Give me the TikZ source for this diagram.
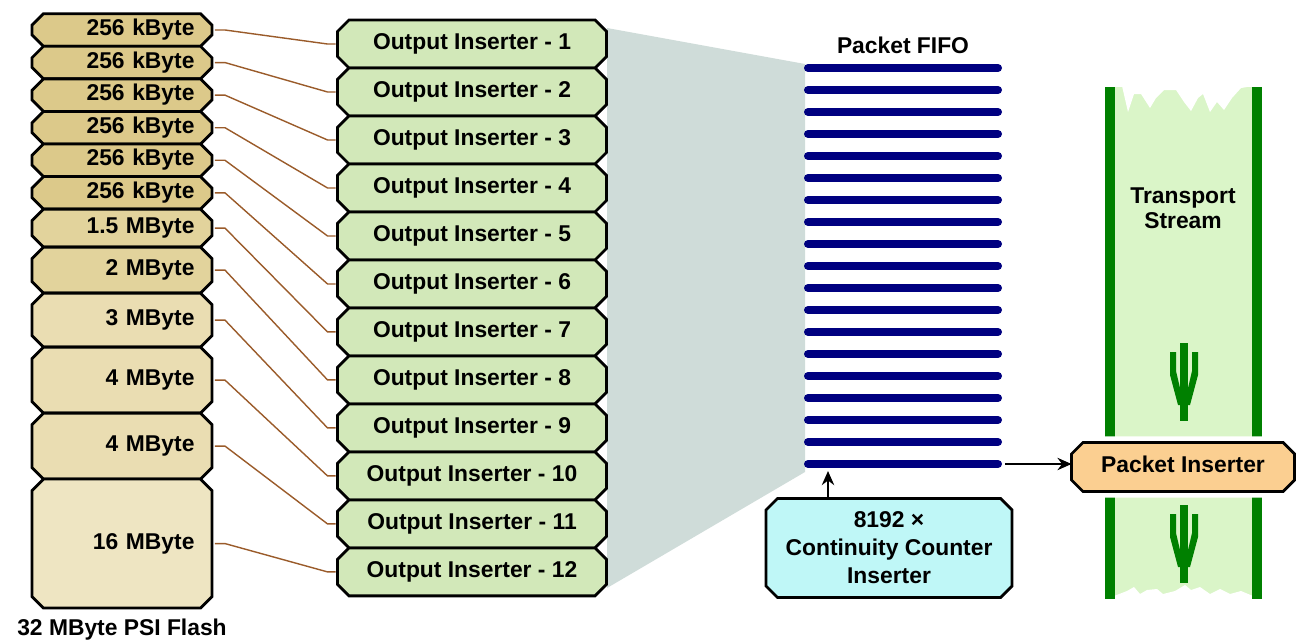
\documentclass[tikz,border=0pt]{standalone}
\usepackage{fontspec}
\setmainfont{Liberation Sans}
\usetikzlibrary{shapes.misc, positioning, arrows.meta}

\definecolor{flashA}{HTML}{DCC98A}
\definecolor{flashB}{HTML}{E2D39C}
\definecolor{flashC}{HTML}{EADDB2}
\definecolor{flashD}{HTML}{EEE5C2}
\definecolor{inserter}{HTML}{D2E8B9}
\definecolor{funnel}{HTML}{CFDCD9}
\definecolor{fifo}{HTML}{000080}
\definecolor{ccfill}{HTML}{BFF7F7}
\definecolor{pifill}{HTML}{FBCF91}
\definecolor{tsfill}{HTML}{DAF5C8}
\definecolor{tsgreen}{HTML}{008000}
\definecolor{wire}{HTML}{9A5B2A}

\begin{document}
\begin{tikzpicture} [ x=0.02cm, y=-0.02cm
                    , font=\fontsize{13}{15}\selectfont\bfseries
                    , box/.style={chamfered rectangle, chamfered rectangle xsep=3pt, draw, line width=1.6pt, outer sep=0pt, inner sep=0pt, text height=9pt, text depth=2.5pt}
                    , fbox/.style={box, minimum width=3.6cm, text width=2.9cm, align=right}
                    , obox/.style={box, fill=inserter, minimum width=5.38cm, minimum height=0.96cm}
                    , wire/.style={draw=wire, line width=0.8pt}
                    , plug/.style={line width=1.3pt, -{Stealth[length=8pt, width=7pt]}}
                    ]

  \useasboundingbox (0,0) rectangle (1300,639);

  % --- Funnel to FIFO --------------------------------------------------------
  \fill [funnel] (607,28) -- (805,64) -- (805,472) -- (607,588) -- cycle;
  % ---------------------------------------------------------------------------

  % --- PSI Flash Stack -------------------------------------------------------
  \node [ fbox, fill=flashA, minimum height=0.64cm ] (F1) at (122,30) {256 kByte};
  \node [ fbox, fill=flashA, minimum height=0.64cm, below=0pt of F1 ] (F2) {256 kByte};
  \node [ fbox, fill=flashA, minimum height=0.64cm, below=0pt of F2 ] (F3) {256 kByte};
  \node [ fbox, fill=flashA, minimum height=0.64cm, below=0pt of F3 ] (F4) {256 kByte};
  \node [ fbox, fill=flashA, minimum height=0.64cm, below=0pt of F4 ] (F5) {256 kByte};
  \node [ fbox, fill=flashA, minimum height=0.64cm, below=0pt of F5 ] (F6) {256 kByte};
  \node [ fbox, fill=flashB, minimum height=0.76cm, below=0pt of F6 ] (F7) {1.5 MByte};
  \node [ fbox, fill=flashB, minimum height=0.92cm, below=0pt of F7 ] (F8) {2 MByte};
  \node [ fbox, fill=flashC, minimum height=1.08cm, below=0pt of F8 ] (F9) {3 MByte};
  \node [ fbox, fill=flashC, minimum height=1.32cm, below=0pt of F9 ] (F10) {4 MByte};
  \node [ fbox, fill=flashC, minimum height=1.32cm, below=0pt of F10 ] (F11) {4 MByte};
  \node [ fbox, fill=flashD, minimum height=2.58cm, below=0pt of F11 ] (F12) {16 MByte};

  \node [ below=0.1cm of F12 ]
        (Flash) {32 MByte PSI Flash};
  % ---------------------------------------------------------------------------

  % --- Output Inserter Stack -------------------------------------------------
  \node [ obox ] (OI1) at (472,44) {Output Inserter - 1};
  \node [ obox, below=0pt of OI1 ] (OI2) {Output Inserter - 2};
  \node [ obox, below=0pt of OI2 ] (OI3) {Output Inserter - 3};
  \node [ obox, below=0pt of OI3 ] (OI4) {Output Inserter - 4};
  \node [ obox, below=0pt of OI4 ] (OI5) {Output Inserter - 5};
  \node [ obox, below=0pt of OI5 ] (OI6) {Output Inserter - 6};
  \node [ obox, below=0pt of OI6 ] (OI7) {Output Inserter - 7};
  \node [ obox, below=0pt of OI7 ] (OI8) {Output Inserter - 8};
  \node [ obox, below=0pt of OI8 ] (OI9) {Output Inserter - 9};
  \node [ obox, below=0pt of OI9 ] (OI10) {Output Inserter - 10};
  \node [ obox, below=0pt of OI10 ] (OI11) {Output Inserter - 11};
  \node [ obox, below=0pt of OI11 ] (OI12) {Output Inserter - 12};

  \foreach \i in {1,...,12}
    \draw [wire] (F\i.east) ++(3,0) -- ++(10,0)
                 -- ([xshift=-0.2cm]OI\i.west) -- ([xshift=-0.04cm]OI\i.west);
  % ---------------------------------------------------------------------------

  % --- Packet FIFO -----------------------------------------------------------
  \node (FIFO) at (903,45) {Packet FIFO};

  \foreach \k in {0,...,18}
    \draw [fifo, line width=0.16cm, line cap=round] (808,68+22*\k) -- (998,68+22*\k);

  \coordinate (FIFOin)  at (828,471);
  \coordinate (FIFOout) at (1005,464);
  % ---------------------------------------------------------------------------

  % --- Continuity Counter ----------------------------------------------------
  \node [ box
        , fill=ccfill
        , minimum width=4.92cm
        , minimum height=1.98cm
        , align=center
        , text height=
        , text depth=
        , font=\fontsize{13}{16}\selectfont\bfseries
        ]
        (CC) at (889,548) {8192 ×\\Continuity Counter\\Inserter};

  \draw [plug] (CC.north -| FIFOin) -- (FIFOin);
  % ---------------------------------------------------------------------------

  % --- Transport Stream ------------------------------------------------------
  \fill [tsfill] (1105,87) rectangle (1262,599);
  \fill [white] (1114,86) -- (1122,86) -- (1128,112) -- (1134,94) -- (1141,94)
        -- (1150,108) -- (1156,98) -- (1164,90) -- (1176,90) -- (1184,102)
        -- (1191,111) -- (1198,98) -- (1203,94) -- (1210,112) -- (1217,102)
        -- (1224,110) -- (1232,98) -- (1241,88) -- (1253,86) -- cycle;
  \fill [white] (1114,600) -- (1114,596) -- (1127,591) -- (1134,587) -- (1140,594)
        -- (1147,590) -- (1157,589) -- (1163,594) -- (1175,591) -- (1185,585)
        -- (1191,590) -- (1200,587) -- (1210,594) -- (1220,589) -- (1230,594)
        -- (1241,591) -- (1253,596) -- (1253,600) -- cycle;
  \fill [tsgreen] (1105,87) rectangle (1115,599);
  \fill [tsgreen] (1252,87) rectangle (1262,599);

  \node [ align=center, font=\fontsize{13}{14}\selectfont\bfseries ]
        (TS) at (1183,208) {Transport\\Stream};

  \foreach \y in {343, 505} {
    \fill [tsgreen] (1180,\y) rectangle (1188,\y+78);
    \fill [tsgreen] (1170,\y+9) -- (1176,\y+9) -- (1176,\y+28) -- (1184,\y+62)
          -- (1178,\y+62) -- (1170,\y+32) -- cycle;
    \fill [tsgreen] (1198,\y+9) -- (1192,\y+9) -- (1192,\y+28) -- (1184,\y+62)
          -- (1190,\y+62) -- (1198,\y+32) -- cycle;
  }
  % ---------------------------------------------------------------------------

  % --- Packet Inserter -------------------------------------------------------
  \node [ box
        , fill=pifill
        , minimum width=4.46cm
        , minimum height=0.98cm
        , preaction={draw=white, line width=7pt}
        ]
        (PI) at (1183,467) {Packet Inserter};

  \draw [plug] (FIFOout) -- (FIFOout -| PI.west);
  % ---------------------------------------------------------------------------
\end{tikzpicture}
\end{document}
